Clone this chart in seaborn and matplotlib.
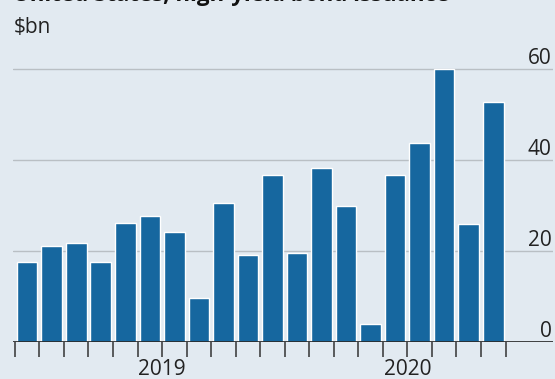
import matplotlib
matplotlib.use("Agg")
import matplotlib.pyplot as plt
import matplotlib.transforms as mtransforms
import seaborn as sns
import pandas as pd

# Monthly US high-yield bond issuance, $bn (Jan 2019 - Aug 2020)
months = ["2019-01", "2019-02", "2019-03", "2019-04", "2019-05", "2019-06",
          "2019-07", "2019-08", "2019-09", "2019-10", "2019-11", "2019-12",
          "2020-01", "2020-02", "2020-03", "2020-04", "2020-05", "2020-06",
          "2020-07", "2020-08"]
issuance = [17.5, 21.0, 21.7, 17.6, 26.2, 27.7, 24.2, 9.6, 30.6, 19.1,
            36.6, 19.6, 38.2, 29.8, 4.0, 36.6, 43.7, 60.0, 26.0, 52.8]
year_labels = ["2019", "2020"]
y_ticks = [0, 20, 40, 60]

BG = "#e2eaf1"
BAR = "#16679f"
GRID = "#b9bfc4"
INK = "#222222"

sns.set_theme(style="white")
plt.rcParams["font.family"] = ["Open Sans", "DejaVu Sans"]

df = pd.DataFrame({"month": months, "issuance": issuance})

W, H = 555, 379
fig = plt.figure(figsize=(W / 100, H / 100), dpi=100)
fig.patch.set_facecolor(BG)

# axes geometry in pixels
left_px, right_px = 13, 553
zero_px = 342          # y of the baseline from the top
unit_px = 273 / 60     # pixels per $bn
ytop = 62
ax = fig.add_axes([left_px / W, (H - zero_px) / H,
                   (right_px - left_px) / W, ytop * unit_px / H])
ax.set_facecolor(BG)

sns.barplot(data=df, x="month", y="issuance", color=BAR, saturation=1,
            width=0.84, ax=ax, zorder=3)

step = 24.53
ax.set_xlim(-0.5 - (14.9 - left_px) / step, -0.5 + (right_px - 14.9) / step)
ax.set_ylim(0, ytop)

for s in ax.spines.values():
    s.set_visible(False)

# horizontal gridlines and dark baseline
for v in y_ticks[1:]:
    ax.axhline(v, color=GRID, lw=1.0, zorder=1)
ax.axhline(0, color=INK, lw=1.2, zorder=4)

# value labels on the right, sitting on the gridlines
ax.set_yticks(y_ticks)
ax.set_yticklabels([str(v) for v in y_ticks])
ax.yaxis.tick_right()
ax.tick_params(axis="y", length=0, pad=-1, labelsize=15, colors=INK,
               labelright=True, labelleft=False)
for lab in ax.get_yticklabels():
    lab.set_horizontalalignment("right")
    lab.set_verticalalignment("bottom")
ax.set_ylabel("")

# month boundary ticks, long ticks at year starts
n = len(months)
bounds = [i - 0.5 for i in range(n + 1)]
ax.set_xticks(bounds)
ax.set_xticklabels([])
ax.tick_params(axis="x", which="major", length=11, width=1.1, color="#333333",
               direction="out", bottom=True)
year_starts = [-0.5, 11.5]
ax.set_xticks(year_starts, minor=True)
ax.tick_params(axis="x", which="minor", length=21, width=1.1, color="#333333",
               direction="out", bottom=True)
ax.set_xlabel("")

# year labels centred under each year's months
trans = mtransforms.blended_transform_factory(ax.transData, ax.transAxes)
year_centres = [5.5, 15.5]
for xc, lab in zip(year_centres, year_labels):
    ax.text(xc, -17 / (ytop * unit_px), lab, transform=trans, ha="center",
            va="top", fontsize=15, color=INK)

# unit label and title (the title runs off the top edge)
fig.text(14 / W, 1 - 33 / H, "$bn", fontsize=15, color=INK, va="baseline",
         ha="left")
fig.text(13 / W, 1 - 1.5 / H, "United States, high-yield bond issuance",
         fontsize=16, fontweight="bold", color="#111111", va="baseline",
         ha="left")

fig.savefig("out.png", dpi=100, facecolor=BG)
